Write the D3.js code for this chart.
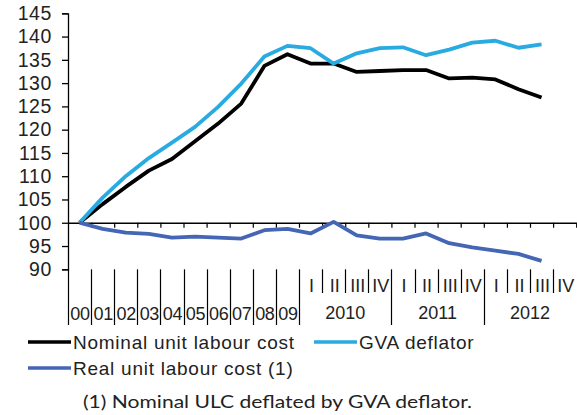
<!DOCTYPE html>
<html>
<head>
<meta charset="utf-8">
<script src="https://cdn.jsdelivr.net/npm/d3@7"></script>
<style>
  body { margin: 0; background: #fff; }
  svg { display: block; }
  text { font-family: "Liberation Sans", Arial, sans-serif; fill: #222; }
</style>
</head>
<body>
<div id="chart"></div>
<script>

// periods on the category axis: ten years, then quarters of 2010-2012
var years = ["00", "01", "02", "03", "04", "05", "06", "07", "08", "09"];
var quarterYears = ["2010", "2011", "2012"];
var quarters = ["I", "II", "III", "IV"];

// series (index 2000 = 100), last value is 2012 Q3
var nominal = [100, 104.0, 107.7, 111.2, 113.7, 117.5, 121.3, 125.6, 133.7, 136.2,
    134.2, 134.2, 132.4, 132.6, 132.8, 132.8, 131.0, 131.2, 130.8, 128.7, 126.9];
var gva = [100, 105.4, 110.0, 113.9, 117.2, 120.6, 124.9, 129.9, 135.7, 138.0,
    137.5, 134.2, 136.4, 137.5, 137.7, 136.0, 137.2, 138.7, 139.1, 137.6, 138.3];
var real = [100, 98.7, 97.9, 97.6, 96.8, 97.0, 96.8, 96.6, 98.4, 98.7,
    97.7, 100.2, 97.3, 96.6, 96.6, 97.7, 95.6, 94.7, 94.0, 93.3, 91.8];

var yTicks = d3.range(90, 146, 5);

var series = [
    {name: "Nominal unit labour cost", values: nominal, color: "#000000"},
    {name: "GVA deflator", values: gva, color: "#29abe2"},
    {name: "Real unit labour cost (1)", values: real, color: "#4565b5"}
];

var footnote = "(1) Nominal ULC deflated by GVA deflator.";

var width = 577, height = 415;
var plotLeft = 68, plotRight = 576.2, plotTop = 13.3, plotBottom = 269.3;

// build the category keys
var periods = years.slice();
quarterYears.forEach(function (y) {
    quarters.forEach(function (q) { periods.push(y + " " + q); });
});

var svg = d3.select("#chart").append("svg")
    .attr("width", width)
    .attr("height", height);

var x = d3.scaleBand().domain(periods).range([plotLeft, plotRight]).padding(0);
var xi = d3.scaleLinear().domain([0, periods.length]).range([plotLeft, plotRight]);
var y = d3.scaleLinear().domain([90, 145]).range([plotBottom, plotTop]);

// y axis
var yAxis = svg.append("g")
    .attr("transform", "translate(" + plotLeft + ",0)")
    .call(d3.axisLeft(y).tickValues(yTicks).tickSize(6).tickPadding(10));
yAxis.select(".domain").attr("stroke", "#000").attr("stroke-width", 1.3);
yAxis.selectAll(".tick line").attr("stroke", "#000").attr("stroke-width", 1.3);
yAxis.selectAll(".tick text")
    .style("font-size", "19.5px")
    .style("letter-spacing", "0.6px")
    .attr("fill", "#222");

// horizontal axis at 100, ticks at category boundaries
var xAxis = svg.append("g")
    .attr("transform", "translate(0," + y(100) + ")")
    .call(d3.axisBottom(xi).tickValues(d3.range(1, periods.length + 1))
        .tickSize(5).tickSizeOuter(0).tickFormat(""));
xAxis.select(".domain").attr("stroke", "#000").attr("stroke-width", 1.3);
xAxis.selectAll(".tick line").attr("stroke", "#000").attr("stroke-width", 1.2);

// category label area below the plot
var labels = svg.append("g");
var longEnd = 325, shortEnd = 293;

// long separators: around each year and each quarterly year
var longIdx = d3.range(0, years.length + 1);
quarterYears.forEach(function (yr, i) {
    if (i > 0) longIdx.push(years.length + i * quarters.length);
});
labels.selectAll(".sepLong")
    .data(longIdx)
    .enter().append("line")
    .attr("class", "sepLong")
    .attr("x1", function (d) { return Math.round(xi(d)) + 0.5; })
    .attr("x2", function (d) { return Math.round(xi(d)) + 0.5; })
    .attr("y1", plotBottom)
    .attr("y2", longEnd)
    .attr("stroke", "#000")
    .attr("stroke-width", 1.2);

// short separators between quarters
var shortIdx = [];
quarterYears.forEach(function (yr, i) {
    for (var q = 1; q < quarters.length; q++) {
        shortIdx.push(years.length + i * quarters.length + q);
    }
});
labels.selectAll(".sepShort")
    .data(shortIdx)
    .enter().append("line")
    .attr("class", "sepShort")
    .attr("x1", function (d) { return Math.round(xi(d)) + 0.5; })
    .attr("x2", function (d) { return Math.round(xi(d)) + 0.5; })
    .attr("y1", plotBottom)
    .attr("y2", shortEnd)
    .attr("stroke", "#000")
    .attr("stroke-width", 1.2);

labels.selectAll(".yearLab")
    .data(years)
    .enter().append("text")
    .attr("class", "yearLab")
    .attr("x", function (d) { return x(d) + x.bandwidth() / 2 + 0.5; })
    .attr("y", 320)
    .attr("text-anchor", "middle")
    .style("font-size", "18px")
    .style("letter-spacing", "-0.3px")
    .text(function (d) { return d; });

var qLabels = [];
quarterYears.forEach(function (yr) {
    quarters.forEach(function (q) { qLabels.push({key: yr + " " + q, q: q}); });
});
labels.selectAll(".qLab")
    .data(qLabels)
    .enter().append("text")
    .attr("class", "qLab")
    .attr("x", function (d) { return x(d.key) + x.bandwidth() / 2 + 1; })
    .attr("y", 292)
    .attr("text-anchor", "middle")
    .style("font-size", "18px")
    .text(function (d) { return d.q; });

labels.selectAll(".qYearLab")
    .data(quarterYears)
    .enter().append("text")
    .attr("class", "qYearLab")
    .attr("x", function (d) {
        return (x(d + " " + quarters[0]) + x(d + " " + quarters[3]) + x.bandwidth()) / 2;
    })
    .attr("y", 319)
    .attr("text-anchor", "middle")
    .style("font-size", "18px")
    .text(function (d) { return d; });

// lines
var line = d3.line()
    .x(function (d, i) { return x(periods[i]) + x.bandwidth() / 2; })
    .y(function (d) { return y(d); });

svg.selectAll(".series")
    .data(series)
    .enter().append("path")
    .attr("class", "series")
    .attr("d", function (d) { return line(d.values); })
    .attr("fill", "none")
    .attr("stroke", function (d) { return d.color; })
    .attr("stroke-width", 3.8)
    .attr("stroke-linejoin", "round");

// legend
var legendPos = [
    {x: 28, y: 342},
    {x: 314, y: 342},
    {x: 28, y: 368}
];
var legend = svg.selectAll(".legend")
    .data(series)
    .enter().append("g")
    .attr("class", "legend")
    .attr("transform", function (d, i) {
        return "translate(" + legendPos[i].x + "," + legendPos[i].y + ")";
    });
legend.append("line")
    .attr("x1", 0).attr("x2", 43)
    .attr("stroke", function (d) { return d.color; })
    .attr("stroke-width", 3.6);
legend.append("text")
    .attr("x", 45)
    .attr("y", 6.5)
    .style("font-size", "19px")
    .style("letter-spacing", "0.75px")
    .text(function (d) { return d.name; });

svg.append("text")
    .attr("x", 83)
    .attr("y", 408)
    .attr("textLength", 389)
    .attr("lengthAdjust", "spacingAndGlyphs")
    .style("font-family", "Lato, 'Open Sans', sans-serif")
    .style("font-size", "18px")
    .attr("fill", "#1a1a1a")
    .text(footnote);

</script>
</body>
</html>
